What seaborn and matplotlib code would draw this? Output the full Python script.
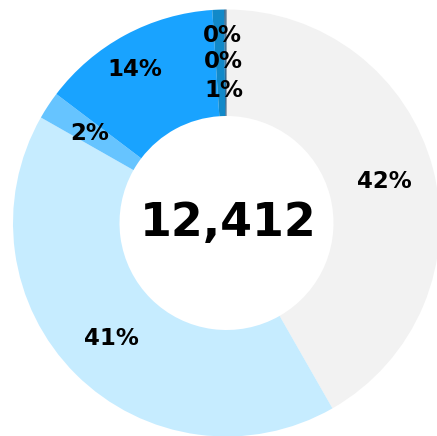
import matplotlib
matplotlib.use("Agg")
import matplotlib.pyplot as plt
import seaborn as sns
import numpy as np

sns.set_theme(style="white")
plt.rcParams['font.family'] = ['DejaVu Sans']

categories = ["A", "B", "C", "D", "E", "F", "G"]
values = [5180, 5150, 260, 1690, 110, 14, 8]
colors = ["#f2f2f2", "#c6ecff", "#66c4ff", "#19a3ff", "#1189c9", "#1d5f8e", "#2b4f6e"]
total_label = "12,412"

W, H = 437, 436
cx, cy = 226.5, 223.0
R = 213.5

fig = plt.figure(figsize=(W / 100, H / 100), dpi=100)
fig.patch.set_facecolor("white")
ax = fig.add_axes([0, 0, 1, 1])
ax.axis("off")

wedges, _ = ax.pie(values, colors=colors, startangle=90, counterclock=False,
                   radius=1.0, wedgeprops=dict(width=1 - 107 / R, linewidth=0),
                   center=(0, 0))
ax.set_xlim(-cx / R, (W - cx) / R)
ax.set_ylim(-(H - cy) / R, cy / R)
ax.set_aspect("equal")

tot = sum(values)
small_r = [0.623, 0.755, 0.88]
si = 0
cum = 0
small_ang = None
for v in values:
    frac = v / tot
    mid = cum + frac / 2
    cum += frac
    ang = np.deg2rad(90 - mid * 360)
    if frac < 0.015:
        if small_ang is None:
            small_ang = ang - np.deg2rad(1.0)
        ang = small_ang
        r = small_r[si]
        si += 1
    elif frac > 0.1 and frac < 0.2:
        r = 0.84
        ang += np.deg2rad(2.5)
    else:
        r = 0.765
    pct = f"{round(frac * 100):d}%"
    ax.text(r * np.cos(ang), r * np.sin(ang), pct, ha="center", va="center",
            fontsize=16.5, fontweight="bold", color="black")

ax.text(0.01, 0, total_label, ha="center", va="center", fontsize=33,
        fontweight="bold", color="black")

fig.savefig("out.png", dpi=100, facecolor="white")
